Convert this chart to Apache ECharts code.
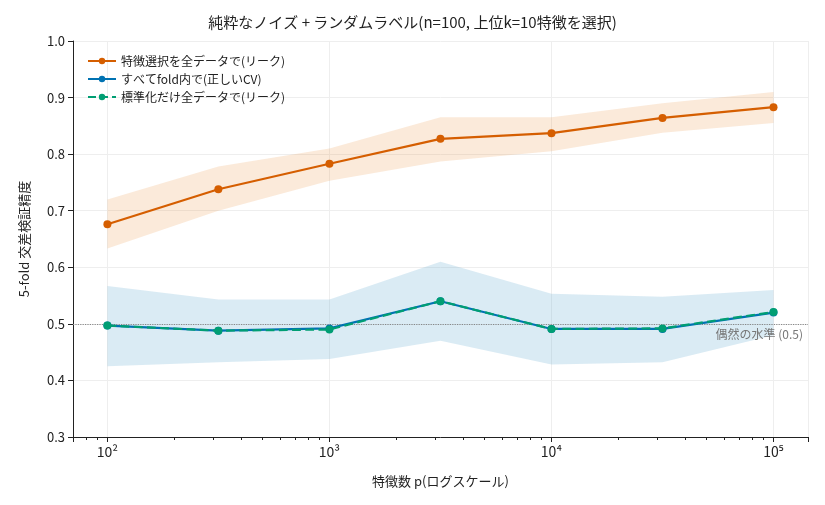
<!DOCTYPE html>
<html><head><meta charset="utf-8">
<script src="https://cdn.jsdelivr.net/npm/echarts@6/dist/echarts.min.js"></script>
<style>body{margin:0}#c{width:825px;height:505px}</style>
</head><body><div id="c"></div>
<script>
var pVals = [100, 316, 1000, 3162, 10000, 31623, 100000];
var leakAll = [0.676, 0.738, 0.783, 0.827, 0.837, 0.864, 0.883];
var leakLo = [0.633, 0.700, 0.753, 0.787, 0.805, 0.838, 0.855];
var leakHi = [0.720, 0.778, 0.810, 0.865, 0.865, 0.890, 0.910];
var properCV = [0.497, 0.488, 0.492, 0.540, 0.491, 0.491, 0.520];
var properLo = [0.425, 0.432, 0.438, 0.470, 0.428, 0.432, 0.480];
var properHi = [0.567, 0.543, 0.543, 0.610, 0.553, 0.548, 0.560];
var scaleOnly = [0.497, 0.488, 0.490, 0.540, 0.491, 0.492, 0.521];

var font = '"Noto Sans CJK JP", "Noto Sans", sans-serif';
var sup = {'0':'⁰','1':'¹','2':'²','3':'³','4':'⁴','5':'⁵','6':'⁶','7':'⁷','8':'⁸','9':'⁹'};

function pairs(arr) {
    return pVals.map(function (p, i) { return [p, arr[i]]; });
}
// band drawn as one polygon through the axis scales
function band(lo, hi, color) {
    return {
        type: 'custom', silent: true, z: 1,
        data: pVals.map(function (p, i) { return [p, lo[i], hi[i]]; }),
        renderItem: function (params, api) {
            if (params.dataIndex !== 0) return null;
            var pts = [], i;
            for (i = 0; i < pVals.length; i++) pts.push(api.coord([pVals[i], hi[i]]));
            for (i = pVals.length - 1; i >= 0; i--) pts.push(api.coord([pVals[i], lo[i]]));
            return { type: 'polygon', shape: { points: pts }, style: { fill: color } };
        }
    };
}

var chart = echarts.init(document.getElementById('c'));
var series = [
    band(leakLo, leakHi, 'rgba(235,150,70,0.2)'),
    band(properLo, properHi, 'rgba(100,170,210,0.24)'),
    { name: '特徴選択を全データで(リーク)', type: 'line', data: pairs(leakAll), color: '#d55e00',
      symbol: 'circle', symbolSize: 8, lineStyle: { width: 2.2 }, z: 5 },
    { name: 'すべてfold内で(正しいCV)', type: 'line', data: pairs(properCV), color: '#0072b2',
      symbol: 'circle', symbolSize: 8, lineStyle: { width: 2.2 }, z: 5,
      markLine: { silent: true, symbol: 'none',
        lineStyle: { color: '#888', type: 'dotted', width: 1.2 },
        label: { position: 'insideEndBottom', formatter: '偶然の水準 (0.5)', color: '#777', fontSize: 12, fontFamily: font },
        data: [{ yAxis: 0.5 }] } },
    { name: '標準化だけ全データで(リーク)', type: 'line', data: pairs(scaleOnly), color: '#009e73',
      symbol: 'circle', symbolSize: 8, lineStyle: { width: 2.2, type: 'dashed' }, z: 6 }
];

chart.setOption({
    animation: false,
    textStyle: { fontFamily: font },
    title: { text: '純粋なノイズ + ランダムラベル(n=100, 上位k=10特徴を選択)', left: 'center', top: 10,
             textStyle: { fontSize: 15, fontWeight: 'normal', color: '#222', fontFamily: font } },
    legend: { orient: 'vertical', left: 82, top: 50, itemGap: 6, itemWidth: 28, itemHeight: 8,
              textStyle: { fontSize: 12, color: '#222', fontFamily: font },
              data: ['特徴選択を全データで(リーク)', 'すべてfold内で(正しいCV)', '標準化だけ全データで(リーク)'] },
    grid: { left: 73, right: 17, top: 41, bottom: 68 },
    xAxis: {
        type: 'log', logBase: 10, min: 70, max: 143000,
        name: '特徴数 p(ログスケール)', nameLocation: 'middle', nameGap: 38,
        nameTextStyle: { fontSize: 13, color: '#222', fontFamily: font },
        axisLine: { lineStyle: { color: '#222' } },
        axisTick: { lineStyle: { color: '#222' } },
        minorTick: { show: true, splitNumber: 9, lineStyle: { color: '#222' } },
        splitLine: { show: true, lineStyle: { color: '#eee' } },
        axisLabel: { fontSize: 14, color: '#222', showMinLabel: false, showMaxLabel: false, fontFamily: font,
            formatter: function (v) {
                var e = Math.log10(v);
                if (Math.abs(e - Math.round(e)) > 1e-6) return '';
                return '10' + String(Math.round(e)).split('').map(function (d) { return sup[d]; }).join('');
            } }
    },
    yAxis: {
        type: 'value', min: 0.3, max: 1.0, interval: 0.1,
        name: '5-fold 交差検証精度', nameLocation: 'middle', nameGap: 42,
        nameTextStyle: { fontSize: 13, color: '#222', fontFamily: font },
        axisLine: { show: true, lineStyle: { color: '#222' } },
        axisTick: { show: true, lineStyle: { color: '#222' } },
        splitLine: { lineStyle: { color: '#eee' } },
        axisLabel: { fontSize: 13, color: '#222', fontFamily: font, formatter: function (v) { return v.toFixed(1); } }
    },
    series: series
});
</script></body></html>
